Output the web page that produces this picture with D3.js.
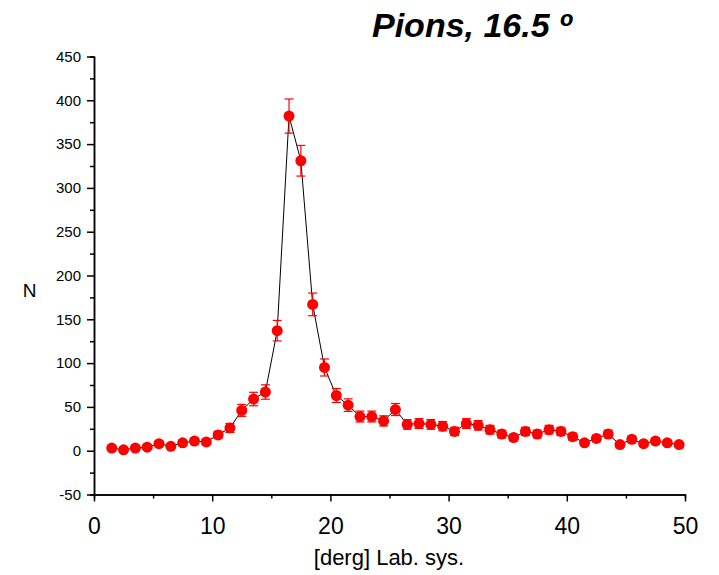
<!DOCTYPE html>
<html>
<head>
<meta charset="utf-8">
<script src="https://cdn.jsdelivr.net/npm/d3@7"></script>
<style>
  body { margin: 0; background: #fff; }
  text { font-family: "Liberation Sans", Arial, sans-serif; }
</style>
</head>
<body>
<script>
// angle bins (centers), counts and errors
var angles = [1.5, 2.5, 3.5, 4.5, 5.5, 6.5, 7.5, 8.5, 9.5, 10.5,
              11.5, 12.5, 13.5, 14.5, 15.5, 16.5, 17.5, 18.5, 19.5, 20.5,
              21.5, 22.5, 23.5, 24.5, 25.5, 26.5, 27.5, 28.5, 29.5, 30.5,
              31.5, 32.5, 33.5, 34.5, 35.5, 36.5, 37.5, 38.5, 39.5, 40.5,
              41.5, 42.5, 43.5, 44.5, 45.5, 46.5, 47.5, 48.5, 49.5];
var counts = [3, 1, 3, 4, 8, 5, 9, 11, 10, 18,
              26, 46, 59, 67, 137, 382, 331, 167, 95, 63,
              52, 39, 39, 34, 47, 30, 31, 30, 28, 22,
              31, 29, 24, 19, 15, 22, 19, 24, 22, 16,
              9, 14, 19, 7, 13, 8, 11, 9, 7];
var errors = [1.7, 1, 1.7, 2, 2.8, 2.2, 3, 3.3, 3.2, 4.2,
              5.1, 6.8, 7.7, 8.2, 11.7, 19.5, 17.5, 12.9, 9.7, 7.9,
              7.2, 6.2, 6.2, 5.8, 6.9, 5.5, 5.6, 5.5, 5.3, 4.7,
              5.6, 5.4, 4.9, 4.4, 3.9, 4.7, 4.4, 4.9, 4.7, 4,
              3, 3.7, 4.4, 2.6, 3.6, 2.8, 3.3, 3, 2.6];
var xTicks = [0, 10, 20, 30, 40, 50];
var yTicks = [-50, 0, 50, 100, 150, 200, 250, 300, 350, 400, 450];

function makeChart() {
  var width = 719, height = 575;
  var left = 94, right = 685, top = 56.5, bottom = 494.5;

  var svg = d3.select("body").append("svg")
              .attr("width", width)
              .attr("height", height);

  var x = d3.scaleLinear().domain([0, 50]).range([left, right]);
  var y = d3.scaleLinear().domain([-50, 450]).range([bottom, top]);

  var data = angles.map(function(a, i) {
    return {x: a, n: counts[i], err: errors[i]};
  });

  // minor ticks
  var xAxisMinor = d3.axisBottom(x).tickValues(d3.range(5, 50, 10))
                     .tickSize(4).tickFormat("");
  var yAxisMinor = d3.axisLeft(y).tickValues(d3.range(-25, 450, 50))
                     .tickSize(4).tickFormat("");

  svg.append("g")
     .attr("transform", "translate(0," + bottom + ")")
     .call(xAxisMinor);
  svg.append("g")
     .attr("transform", "translate(" + left + ",0)")
     .call(yAxisMinor);

  // x axis
  var gx = svg.append("g")
     .attr("class", "axis")
     .attr("transform", "translate(0," + bottom + ")")
     .call(d3.axisBottom(x).tickValues(xTicks).tickSize(7).tickSizeOuter(0)
             .tickPadding(16).tickFormat(function(d) { return String(d); }));
  gx.selectAll("text").style("font-size", "23px").attr("fill", "#000");

  // y axis
  var gy = svg.append("g")
     .attr("class", "axis")
     .attr("transform", "translate(" + left + ",0)")
     .call(d3.axisLeft(y).tickValues(yTicks).tickSize(7).tickSizeOuter(0)
             .tickPadding(6).tickFormat(function(d) { return String(d); }));
  gy.selectAll("text").style("font-size", "15px").attr("fill", "#000");

  svg.selectAll(".domain, .tick line")
     .attr("stroke", "#000")
     .attr("stroke-width", 1.5);

  // connecting line
  var line = d3.line()
               .x(function(d) { return x(d.x); })
               .y(function(d) { return y(d.n); });
  svg.append("path")
     .datum(data)
     .attr("d", line)
     .attr("fill", "none")
     .attr("stroke", "#000")
     .attr("stroke-width", 1);

  // error bars
  var eb = svg.append("g").attr("stroke", "#ff0000").attr("stroke-width", 1.2);
  eb.selectAll(".ebar")
    .data(data).enter()
    .append("line")
      .attr("x1", function(d) { return x(d.x); })
      .attr("x2", function(d) { return x(d.x); })
      .attr("y1", function(d) { return y(d.n - d.err); })
      .attr("y2", function(d) { return y(d.n + d.err); });
  eb.selectAll(".capTop")
    .data(data).enter()
    .append("line")
      .attr("x1", function(d) { return x(d.x) - 4.5; })
      .attr("x2", function(d) { return x(d.x) + 4.5; })
      .attr("y1", function(d) { return y(d.n + d.err); })
      .attr("y2", function(d) { return y(d.n + d.err); });
  eb.selectAll(".capBot")
    .data(data).enter()
    .append("line")
      .attr("x1", function(d) { return x(d.x) - 4.5; })
      .attr("x2", function(d) { return x(d.x) + 4.5; })
      .attr("y1", function(d) { return y(d.n - d.err); })
      .attr("y2", function(d) { return y(d.n - d.err); });

  // points
  svg.selectAll(".pt")
     .data(data).enter()
     .append("circle")
       .attr("cx", function(d) { return x(d.x); })
       .attr("cy", function(d) { return y(d.n); })
       .attr("r", 5.5)
       .attr("fill", "#ff0000");

  // labels
  svg.append("text")
     .attr("x", 29.5).attr("y", 297)
     .attr("text-anchor", "middle")
     .style("font-size", "19px")
     .text("N");

  svg.append("text")
     .attr("x", 389).attr("y", 565)
     .attr("text-anchor", "middle")
     .style("font-size", "22px")
     .text("[derg] Lab. sys.");

  svg.append("text")
     .attr("x", 372).attr("y", 37)
     .style("font-size", "34px")
     .style("font-weight", "bold")
     .style("font-style", "italic")
     .text("Pions, 16.5 º");
}

window.onload = function() {
  makeChart();
};
</script>
</body>
</html>
